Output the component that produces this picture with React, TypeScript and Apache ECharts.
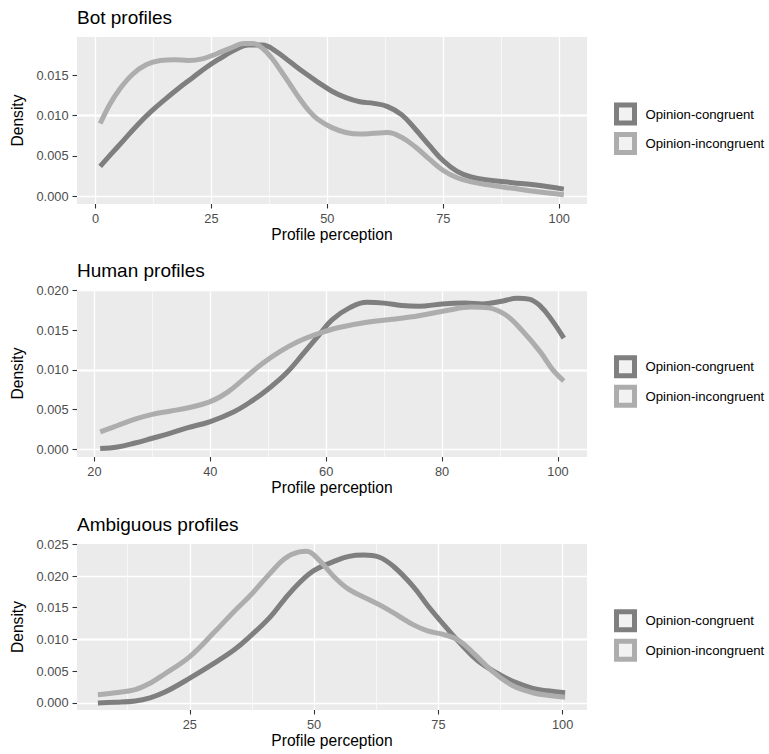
import { useEffect, useRef } from "react";
import * as echarts from "echarts";

// Legend entries / colours shared by the three panels
const SERIES_NAMES = ["Opinion-congruent", "Opinion-incongruent"];
const SERIES_COLORS = ["#7F7F7F", "#ADADAD"];
const PANEL_TITLES = ["Bot profiles", "Human profiles", "Ambiguous profiles"];

// Bot profiles – density estimates
const botCongruentX = [1, 3, 6, 9, 12, 15, 18, 21, 24, 27, 30, 33, 36, 39, 42, 45, 48, 51, 54, 57, 60, 63, 66, 69, 72, 75, 78, 81, 85, 90, 95, 101];
const botCongruentY = [0.0037, 0.005, 0.0069, 0.0088, 0.0105, 0.012, 0.0134, 0.0147, 0.016, 0.0171, 0.0181, 0.0187, 0.0187, 0.0179, 0.0166, 0.0153, 0.0141, 0.013, 0.0122, 0.0117, 0.0115, 0.0111, 0.0101, 0.0083, 0.0063, 0.0044, 0.0031, 0.0024, 0.002, 0.0017, 0.0014, 0.0009];
const botIncongruentX = [1, 3, 5, 8, 11, 14, 17, 20, 23, 26, 29, 32, 34, 36, 38, 40, 42, 44, 46, 48, 51, 54, 57, 60, 63, 66, 69, 72, 75, 78, 81, 85, 90, 95, 101];
const botIncongruentY = [0.009, 0.0113, 0.0131, 0.0151, 0.0163, 0.0168, 0.0169, 0.0168, 0.017, 0.0176, 0.0183, 0.0189, 0.0189, 0.0183, 0.0171, 0.0155, 0.0138, 0.0121, 0.0106, 0.0095, 0.0085, 0.0079, 0.0077, 0.0078, 0.0079, 0.0073, 0.0061, 0.0046, 0.0032, 0.0023, 0.0018, 0.0014, 0.001, 0.0006, 0.0002];

// Human profiles – density estimates
const humanCongruentX = [21, 24, 27, 30, 33, 36, 40, 44, 47, 50, 53, 56, 59, 61, 64, 67, 70, 73, 76, 80, 84, 87, 90, 93, 95, 97, 99, 101];
const humanCongruentY = [0.0001, 0.0003, 0.0008, 0.0014, 0.002, 0.0027, 0.0035, 0.0047, 0.006, 0.0076, 0.0095, 0.012, 0.0146, 0.0163, 0.0178, 0.0185, 0.0184, 0.0181, 0.018, 0.0183, 0.0184, 0.0183, 0.0186, 0.019, 0.0189, 0.018, 0.0162, 0.014];
const humanIncongruentX = [21, 24, 27, 30, 33, 36, 40, 43, 46, 49, 52, 55, 58, 62, 67, 72, 76, 81, 85, 88, 91, 94, 97, 99, 101];
const humanIncongruentY = [0.0022, 0.003, 0.0038, 0.0044, 0.0048, 0.0052, 0.006, 0.0072, 0.009, 0.0108, 0.0123, 0.0135, 0.0144, 0.0153, 0.016, 0.0164, 0.0168, 0.0175, 0.0179, 0.0178, 0.0169, 0.0148, 0.0122, 0.0101, 0.0086];

// Ambiguous profiles – density estimates
const ambCongruentX = [6.5, 10, 14, 17, 20, 25, 30, 34, 37, 41, 44, 47, 50, 54, 57, 60, 63, 66, 70, 73, 77, 80, 83, 87, 90, 94, 97, 100.5];
const ambCongruentY = [0, 0.0001, 0.0003, 0.0008, 0.0017, 0.0039, 0.0063, 0.0084, 0.0104, 0.0134, 0.0163, 0.0189, 0.0209, 0.0223, 0.0231, 0.0233, 0.023, 0.0215, 0.0183, 0.0152, 0.0115, 0.0089, 0.0066, 0.0046, 0.0034, 0.0023, 0.0019, 0.0016];
const ambIncongruentX = [6.5, 10, 14, 17, 20, 25, 30, 34, 37, 41, 44, 47, 48.5, 51, 54, 57, 61, 64, 67, 70, 73, 76, 79, 82, 86, 90, 94, 97, 100.5];
const ambIncongruentY = [0.0013, 0.0016, 0.0021, 0.0031, 0.0046, 0.0073, 0.0112, 0.0145, 0.0168, 0.0203, 0.0227, 0.0238, 0.0239, 0.0225, 0.0199, 0.0179, 0.0163, 0.0151, 0.0137, 0.0123, 0.0113, 0.0108, 0.0099, 0.0079, 0.0049, 0.0027, 0.0016, 0.0012, 0.0009];

// Axis breaks and limits
const botXTicks = [0, 25, 50, 75, 100];
const botYTicks = [0, 0.005, 0.01, 0.015];
const humanXTicks = [20, 40, 60, 80, 100];
const humanYTicks = [0, 0.005, 0.01, 0.015, 0.02];
const ambXTicks = [25, 50, 75, 100];
const ambYTicks = [0, 0.005, 0.01, 0.015, 0.02, 0.025];
const botXRange = [-4, 106];
const botYRange = [-0.00094, 0.0197];
const humanXRange = [17, 105];
const humanYRange = [-0.00096, 0.02005];
const ambXRange = [2.3, 104.9];
const ambYRange = [-0.00112, 0.02505];

const FONT = "'Liberation Sans', Arial, Helvetica, sans-serif";

const panels = [
  {
    xTicks: botXTicks, yTicks: botYTicks, xRange: botXRange, yRange: botYRange,
    lines: [[botCongruentX, botCongruentY], [botIncongruentX, botIncongruentY]],
  },
  {
    xTicks: humanXTicks, yTicks: humanYTicks, xRange: humanXRange, yRange: humanYRange,
    lines: [[humanCongruentX, humanCongruentY], [humanIncongruentX, humanIncongruentY]],
  },
  {
    xTicks: ambXTicks, yTicks: ambYTicks, xRange: ambXRange, yRange: ambYRange,
    lines: [[ambCongruentX, ambCongruentY], [ambIncongruentX, ambIncongruentY]],
  },
];

// Layout of each panel
const PANEL_TOPS = [37, 290, 544];
const PANEL_HEIGHTS = [167, 167, 166];
const TITLE_TOPS = [7.5, 261, 514.8];
const LEGEND_TOPS = [102.5, 355.2, 609.2];

// Minor breaks sit halfway between the major breaks
function minorBreaks(ticks: number[], range: number[]) {
  const step = ticks[1] - ticks[0];
  const out: number[] = [];
  for (let v = ticks[0] - step / 2; v < range[1]; v += step) {
    if (v > range[0]) out.push(v);
  }
  return out;
}

function buildOption() {
  const grid: any[] = [];
  const xAxis: any[] = [];
  const yAxis: any[] = [];
  const series: any[] = [];
  const title: any[] = [];
  const legend: any[] = [];

  panels.forEach((p, i) => {
    grid.push({
      left: 77,
      top: PANEL_TOPS[i],
      width: 510,
      height: PANEL_HEIGHTS[i],
      show: true,
      backgroundColor: "#EBEBEB",
      borderWidth: 0,
      containLabel: false,
      outerBoundsMode: "none",
    });

    xAxis.push({
      gridIndex: i,
      type: "value",
      min: p.xRange[0],
      max: p.xRange[1],
      axisLine: { show: false, onZero: false },
      axisTick: { show: true, length: 4.5, lineStyle: { color: "#333333", width: 1.1 }, customValues: p.xTicks },
      axisLabel: { customValues: p.xTicks, color: "#4D4D4D", fontSize: 12.8, margin: 7.6, fontFamily: FONT },
      splitLine: { show: false },
      name: "Profile perception",
      nameLocation: "middle",
      nameGap: 22,
      nameTextStyle: { fontSize: 15.6, color: "#000", fontFamily: FONT },
    });

    yAxis.push({
      gridIndex: i,
      type: "value",
      min: p.yRange[0],
      max: p.yRange[1],
      axisLine: { show: false, onZero: false },
      axisTick: { show: true, length: 4.5, lineStyle: { color: "#333333", width: 1.1 }, customValues: p.yTicks },
      axisLabel: {
        customValues: p.yTicks,
        formatter: (v: number) => v.toFixed(3),
        color: "#4D4D4D",
        fontSize: 12.8,
        margin: 8.5,
        fontFamily: FONT,
      },
      splitLine: { show: false },
      name: "Density",
      nameLocation: "middle",
      nameGap: 49,
      nameTextStyle: { fontSize: 15.6, color: "#000", fontFamily: FONT },
    });

    // white panel grid (major + minor)
    const gridLineData: any[] = [];
    p.xTicks.forEach((v) => gridLineData.push({ xAxis: v, lineStyle: { width: 1.3 } }));
    minorBreaks(p.xTicks, p.xRange).forEach((v) => gridLineData.push({ xAxis: v, lineStyle: { width: 0.6 } }));
    p.yTicks.forEach((v) => gridLineData.push({ yAxis: v, lineStyle: { width: 1.3 } }));
    minorBreaks(p.yTicks, p.yRange).forEach((v) => gridLineData.push({ yAxis: v, lineStyle: { width: 0.6 } }));

    series.push({
      name: "panel-grid-" + i,
      type: "line",
      xAxisIndex: i,
      yAxisIndex: i,
      data: [],
      z: 1,
      silent: true,
      markLine: {
        silent: true,
        z: 1,
        animation: false,
        symbol: ["none", "none"],
        label: { show: false },
        emphasis: { disabled: true },
        lineStyle: { color: "#FFFFFF", type: "solid", width: 1.3 },
        data: gridLineData,
      },
    });

    p.lines.forEach(([xs, ys], k) => {
      series.push({
        name: SERIES_NAMES[k],
        type: "line",
        xAxisIndex: i,
        yAxisIndex: i,
        data: xs.map((x, j) => [x, ys[j]]),
        showSymbol: false,
        symbol: "none",
        smooth: 0.4,
        z: 3,
        silent: true,
        lineStyle: { width: 5, color: SERIES_COLORS[k], cap: "butt" },
        itemStyle: { color: SERIES_COLORS[k] },
        emphasis: { disabled: true },
      });
    });

    title.push({
      text: PANEL_TITLES[i],
      left: 77,
      top: TITLE_TOPS[i],
      padding: 0,
      textStyle: { fontSize: 19, fontWeight: "normal", color: "#000", fontFamily: FONT },
    });

    legend.push({
      orient: "vertical",
      left: 614,
      top: LEGEND_TOPS[i],
      padding: 0,
      itemWidth: 18,
      itemHeight: 18,
      itemGap: 6.6,
      icon: "rect",
      selectedMode: false,
      textStyle: { fontSize: 13.2, color: "#000", fontFamily: FONT, padding: [0, 0, 0, 6] },
      data: SERIES_NAMES.map((n, k) => ({
        name: n,
        itemStyle: { color: "#F2F2F2", borderColor: SERIES_COLORS[k], borderWidth: 5 },
      })),
    });
  });

  return {
    animation: false,
    backgroundColor: "#FFFFFF",
    textStyle: { fontFamily: FONT },
    title,
    legend,
    grid,
    xAxis,
    yAxis,
    series,
  };
}

export default function App() {
  const ref = useRef<HTMLDivElement>(null);

  useEffect(() => {
    if (!ref.current) return;
    const chart = echarts.init(ref.current, undefined, { renderer: "svg" });
    chart.setOption(buildOption() as any);
    return () => chart.dispose();
  }, []);

  return (
    <div
      ref={ref}
      style={{ position: "absolute", left: 0, top: 0, width: 769, height: 754, background: "#fff" }}
    />
  );
}
